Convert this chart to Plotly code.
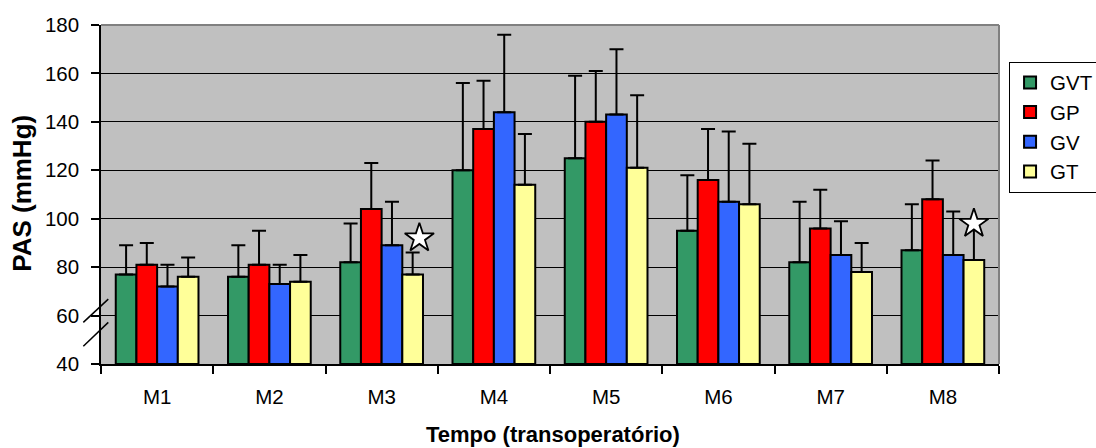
import plotly.graph_objects as go

# Systolic arterial pressure (PAS) per moment and group
moments = ["M1", "M2", "M3", "M4", "M5", "M6", "M7", "M8"]
groups = ["GVT", "GP", "GV", "GT"]
colors = ["#339966", "#FF0000", "#3366FF", "#FFFF99"]

gvt_mean = [77, 76, 82, 120, 125, 95, 82, 87]
gp_mean = [81, 81, 104, 137, 140, 116, 96, 108]
gv_mean = [72, 73, 89, 144, 143, 107, 85, 85]
gt_mean = [76, 74, 77, 114, 121, 106, 78, 83]

# upper end of the standard deviation bar
gvt_upper = [89, 89, 98, 156, 159, 118, 107, 106]
gp_upper = [90, 95, 123, 157, 161, 137, 112, 124]
gv_upper = [81, 81, 107, 176, 170, 136, 99, 103]
gt_upper = [84, 85, 86, 135, 151, 131, 90, 96]

# significance stars drawn over the GT bars
star_moments = ["M3", "M8"]
star_values = [92, 98]
star_shift = [0.06, 0.0]

means = [gvt_mean, gp_mean, gv_mean, gt_mean]
uppers = [gvt_upper, gp_upper, gv_upper, gt_upper]

BASE = 40
FONT = "Liberation Sans, Arial, sans-serif"
BARGAP = 0.263

fig = go.Figure()
for i, (name, col, m, u) in enumerate(zip(groups, colors, means, uppers)):
    fig.add_trace(go.Bar(
        name=name,
        x=moments,
        y=[v - BASE for v in m],
        base=BASE,
        marker=dict(color=col, line=dict(color="black", width=2)),
        error_y=dict(
            type="data", symmetric=False,
            array=[hi - v for hi, v in zip(u, m)],
            arrayminus=[0] * len(m),
            color="black", thickness=2, width=7,
        ),
        legendgroup=name,
        hoverinfo="skip",
    ))

# star markers, placed on the GT bar of each marked moment
bar_w = (1 - BARGAP) / len(groups)
gt_offset = -(1 - BARGAP) / 2 + bar_w * 3.5
star_x = [moments.index(mo) + gt_offset + s for mo, s in zip(star_moments, star_shift)]
fig.add_trace(go.Scatter(
    x=star_x, y=star_values, xaxis="x2", yaxis="y",
    mode="markers",
    marker=dict(symbol="star", size=22, color="white",
                line=dict(color="black", width=1.8)),
    showlegend=False, hoverinfo="skip",
))

# axis break marks near the foot of the y axis
for y0, y1 in [(57.2, 66.8), (47.3, 57.2)]:
    fig.add_shape(type="line", xref="paper", yref="y",
                  x0=-0.0197, y0=y0, x1=0.0081, y1=y1,
                  line=dict(color="black", width=1.5))

# grey frame on top and right of the plot area
fig.add_shape(type="line", xref="paper", yref="paper", x0=0, x1=1, y0=1, y1=1,
              line=dict(color="#808080", width=2))
fig.add_shape(type="line", xref="paper", yref="paper", x0=1, x1=1, y0=0, y1=1,
              line=dict(color="#808080", width=2))

fig.add_annotation(text="<b>PAS (mmHg)</b>", xref="paper", yref="paper",
                   x=-0.088, y=0.505, xanchor="center", yanchor="middle",
                   textangle=-90, showarrow=False,
                   font=dict(family=FONT, size=26, color="black"))
fig.add_annotation(text="<b>Tempo (transoperatório)</b>", xref="paper", yref="paper",
                   x=0.503, y=-0.208, xanchor="center", yanchor="middle",
                   showarrow=False,
                   font=dict(family=FONT, size=22, color="black"))

fig.update_layout(
    width=1096, height=448,
    margin=dict(l=101, r=97, t=25, b=84, autoexpand=False),
    paper_bgcolor="white",
    plot_bgcolor="#C0C0C0",
    barmode="group",
    bargap=BARGAP,
    bargroupgap=0,
    font=dict(family=FONT, size=20.5, color="black"),
    showlegend=True,
    legend=dict(
        x=1.0112, y=0.892, xanchor="left", yanchor="top",
        bordercolor="black", borderwidth=1, bgcolor="white",
        font=dict(family=FONT, size=20.5, color="black"),
        tracegroupgap=0,
    ),
    xaxis=dict(
        type="category",
        range=[-0.5, 7.5],
        showline=True, linecolor="black", linewidth=1.5,
        ticks="outside", tickson="boundaries", ticklen=8, tickcolor="black",
        tickwidth=1.5,
        showgrid=False, zeroline=False,
        ticklabelstandoff=14,
    ),
    xaxis2=dict(
        overlaying="x", range=[-0.5, 7.5], visible=False,
    ),
    yaxis=dict(
        range=[40, 180],
        tickvals=[40, 60, 80, 100, 120, 140, 160, 180],
        showline=True, linecolor="black", linewidth=1.5,
        ticks="outside", ticklen=8, tickcolor="black", tickwidth=1.5,
        showgrid=True, gridcolor="black", gridwidth=1,
        zeroline=False,
        ticklabelstandoff=8,
    ),
)

fig.write_html("out.html")
